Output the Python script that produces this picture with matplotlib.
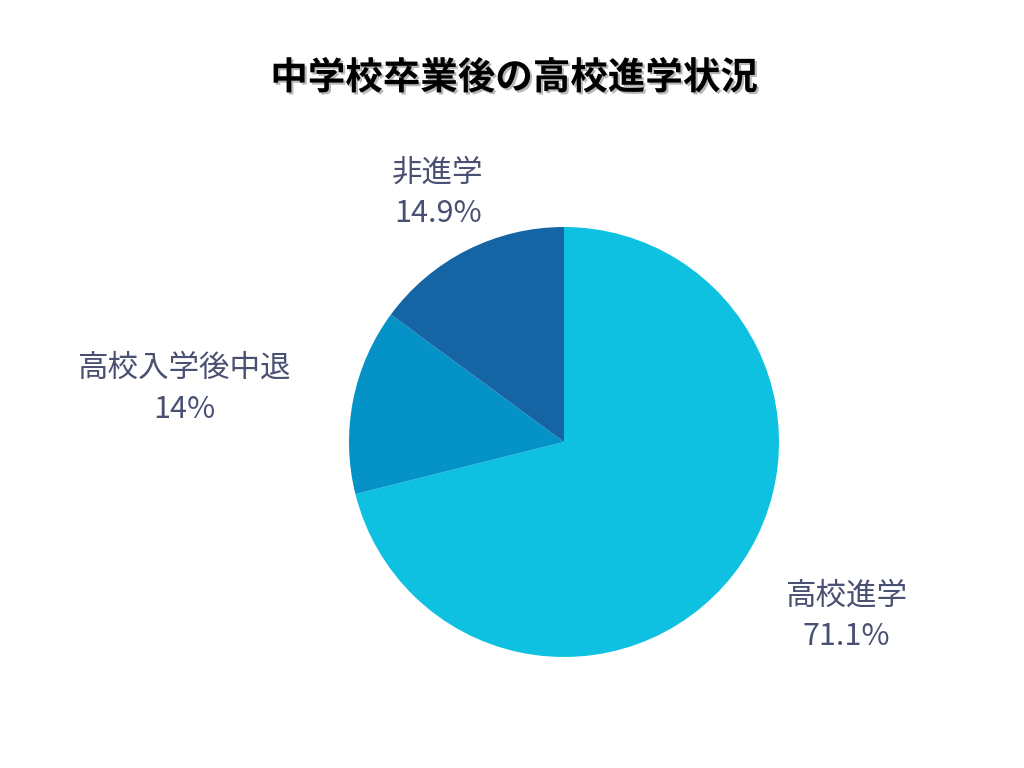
import matplotlib
matplotlib.use("Agg")
import matplotlib.pyplot as plt
import matplotlib.patheffects as pe
import numpy as np

plt.rcParams['font.family'] = ['Noto Sans CJK JP', 'DejaVu Sans']

title = "中学校卒業後の高校進学状況"
labels = ["高校進学", "高校入学後中退", "非進学"]
values = [71.1, 14.0, 14.9]
value_text = ["71.1%", "14%", "14.9%"]
colors = ["#0EC1E0", "#0592C7", "#1565A5"]

fig = plt.figure(figsize=(10.24, 7.68), dpi=100)
ax = fig.add_axes([349 / 1024, (768 - 442 - 215) / 768, 430 / 1024, 430 / 768])
wedges, _ = ax.pie(values, colors=colors, startangle=90, counterclock=False,
                   wedgeprops=dict(linewidth=0))
ax.set_xlim(-1, 1)
ax.set_ylim(-1, 1)
ax.set_aspect("equal")

# label positions relative to the pie (radius 1 = 215 px)
offsets = [(1.312, -0.81), (-1.767, 0.247), (-0.586, 1.158)]
for lab, vt, (dx, dy) in zip(labels, value_text, offsets):
    ax.text(dx, dy, lab + "\n" + vt, ha="center", va="center", fontsize=22,
            color="#4A5072", linespacing=1.4, clip_on=False)

fig.text(0.502, 0.899, title, ha="center", va="center", fontsize=27,
         fontweight="bold", color="black",
         path_effects=[pe.withSimplePatchShadow(offset=(1.5, -1.5), shadow_rgbFace="#888888", alpha=0.6)])

fig.savefig("out.png", dpi=100, facecolor="white")
